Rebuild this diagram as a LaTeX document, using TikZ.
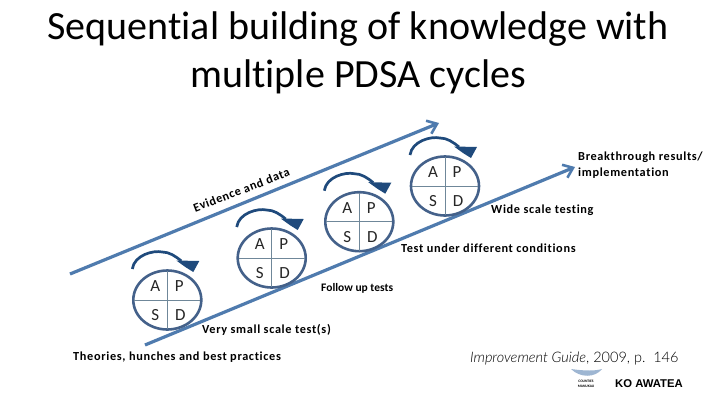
\documentclass[tikz,border=0pt]{standalone}
\usepackage{fontspec}
\setmainfont[Ligatures=NoCommon]{Carlito}
\newfontfamily\labf[Ligatures=NoCommon,LetterSpace=5.3]{Carlito}
\newfontfamily\ital{Lato Light}
\newfontfamily\heavy{Liberation Sans}
\definecolor{linecol}{HTML}{4F7BAE}
\definecolor{ringcol}{HTML}{44618A}
\definecolor{crosscol}{HTML}{6F8799}
\definecolor{arccol}{HTML}{1F4A7C}
\usetikzlibrary{arrows.meta,shapes.geometric}
\tikzset{
  x=1pt,y=-1pt,
  flow/.style={draw=linecol,line width=3.2pt,-{Straight Barb[length=9pt,width=14pt,line width=2.6pt]}},
  ring/.style={draw=ringcol,line width=2.6pt,ellipse,minimum width=68pt,minimum height=59pt,inner sep=0pt},
  lab/.style={font=\fontsize{12.3}{16}\labf\bfseries\selectfont,text=black,inner sep=0pt},
  pdsa/.style={font=\fontsize{17}{18}\selectfont,text=black!85,inner sep=0pt},
  titl/.style={font=\fontsize{40}{47.5}\selectfont,text=black,align=center,inner sep=0pt},
}
\newcommand{\cycle}[3]{%
  \node[ring] (#3) at (#1,#2) {};
  \begin{scope}[shift={(#1,#2)}]
    \draw[crosscol,line width=1pt] (-33,0) -- (33,0) (0,-29) -- (0,29);
    \node[pdsa] at (-12,-14) {A};
    \node[pdsa] at (12,-14) {P};
    \node[pdsa] at (-12,15) {S};
    \node[pdsa] at (13,15) {D};
    \draw[arccol,line width=2.7pt] (-35,-31) .. controls (-33,-45) and (-14,-50) .. (-5,-48) .. controls (2,-48) and (8,-44) .. (14,-39);
    \fill[arccol] (9,-39.5) -- (32,-39) -- (26,-28) -- (18,-33) -- cycle;
  \end{scope}}
\begin{document}
\begin{tikzpicture}
\useasboundingbox (0,0) rectangle (720,405);
\fill[white] (0,0) rectangle (720,405);
\node[titl] (title) at (358,53) {Sequential building of knowledge with\\multiple PDSA cycles};
\coordinate (a1) at (70,274);
\coordinate (a2) at (439,123);
\coordinate (b1) at (145,345);
\coordinate (b2) at (575,167);
\draw[flow] (a1) -- (a2);
\draw[flow] (b1) -- (b2);
\cycle{167.3}{300}{c1}
\cycle{271.7}{258}{c2}
\cycle{359.3}{221.7}{c3}
\cycle{445}{186}{c4}
\node[lab,rotate=21] (ev) at (241.5,190) {Evidence and data};
\node[lab,align=left,anchor=west] (br) at (578,165) {Breakthrough results/\\implementation};
\node[lab,anchor=west] (wide) at (491,210) {Wide scale testing};
\node[lab,anchor=west] (test) at (401,248) {Test under different conditions};
\node[lab,anchor=west,font=\fontsize{11.5}{13}\selectfont\bfseries] (fol) at (321,288) {Follow up tests};
\node[lab,anchor=west] (very) at (202,330) {Very small scale test(s)};
\node[lab,anchor=west] (theo) at (73,357) {Theories, hunches and best practices};
\node[anchor=west,inner sep=0pt,font=\fontsize{14.5}{18}\ital\selectfont] (guide) at (470,358) {\textit{Improvement Guide}, 2009, p.\ \ 146};
\fill[linecol!55] (571,369) .. controls (585,371) and (595,371) .. (602,369) .. controls (595,378) and (580,378) .. (571,369) -- cycle;
\node[inner sep=0pt,align=center,font=\fontsize{3.6}{4.5}\selectfont\bfseries] (cm) at (586,384) {COUNTIES\\MANUKAU};
\node[inner sep=0pt,font=\fontsize{11.3}{12}\heavy\bfseries\selectfont] (ko) at (649,384) {KO AWATEA};
\end{tikzpicture}
\end{document}
